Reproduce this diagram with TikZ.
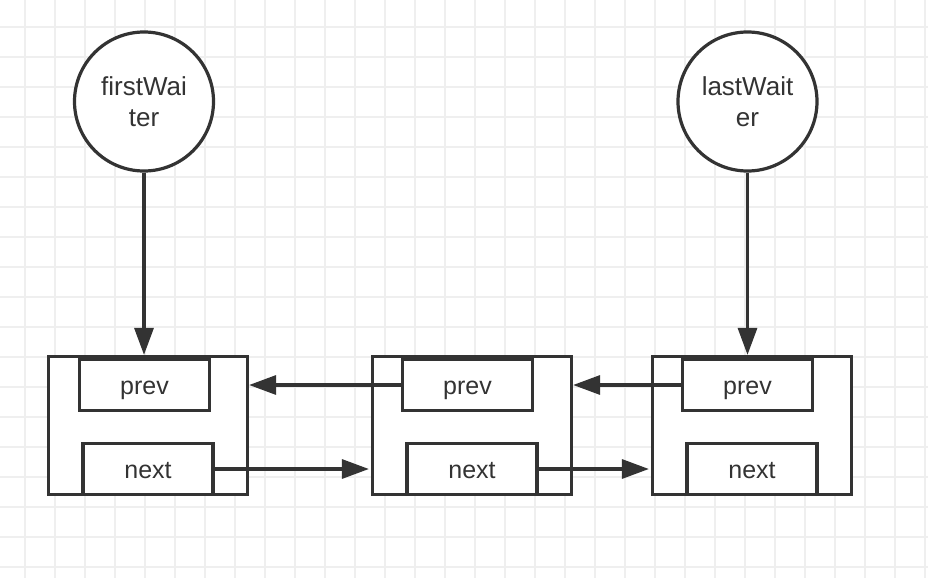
\documentclass[tikz,border=0pt]{standalone}
\usepackage{fontspec}
\setmainfont{Liberation Sans}
\usetikzlibrary{arrows.meta,calc}

\definecolor{ink}{HTML}{333333}
\definecolor{gridgray}{HTML}{EFEFEF}

\tikzset{
  waiter/.style = {circle, draw = ink, line width = 3.2pt, fill = white,
                   minimum size = 139pt, inner sep = 0pt, align = center,
                   text = ink, font = \fontsize{26}{31}\selectfont},
  nodebox/.style = {rectangle, draw = ink, line width = 3.2pt, fill = white,
                    minimum width = 199pt, minimum height = 138pt},
  field/.style = {rectangle, draw = ink, line width = 3.2pt, fill = white,
                  minimum width = 130pt, minimum height = 51pt, inner sep = 0pt,
                  text height = 19pt, text depth = 0pt,
                  text = ink, font = \fontsize{25}{30}\selectfont},
  link/.style = {draw = ink, line width = 3.2pt,
                 -{Triangle[length = 27pt, width = 19pt]}}
}

\begin{document}
\begin{tikzpicture}[x = 1pt, y = -1pt]
  \useasboundingbox (0,0) rectangle (928,578);
  \fill[white] (0,0) rectangle (928,578);
  % background grid
  \foreach \gx in {25,55,...,925}
    \draw[gridgray, line width = 1.2pt] (\gx,0) -- (\gx,578);
  \foreach \gy in {27,57,...,567}
    \draw[gridgray, line width = 1.2pt] (0,\gy) -- (928,\gy);

  % the list nodes
  \foreach \i/\bx/\px in {1/148/-3.5, 2/472/-4.5, 3/752/-4.5} {
    \node[nodebox] (box\i) at (\bx,425.5) {};
    \node[field] (prev\i) at ($(box\i)+(\px,-40.5)$) {prev};
    \node[field] (next\i) at ($(box\i)+(0,43.5)$) {next};
  }

  \node[waiter] (first) at (144,101.5) {firstWai\\ter};
  \node[waiter] (last) at (747.5,101.5) {lastWait\\er};

  \draw[link] (first.south) -- (first.south |- box1.north);
  \draw[link] (last.south) -- (last.south |- box3.north);

  \draw[link] (prev2.west) -- (prev2.west -| box1.east);
  \draw[link] (prev3.west) -- (prev3.west -| box2.east);
  \draw[link, shorten > = 2pt] (next1.east) -- (next1.east -| box2.west);
  \draw[link, shorten > = 2pt] (next2.east) -- (next2.east -| box3.west);
\end{tikzpicture}
\end{document}
